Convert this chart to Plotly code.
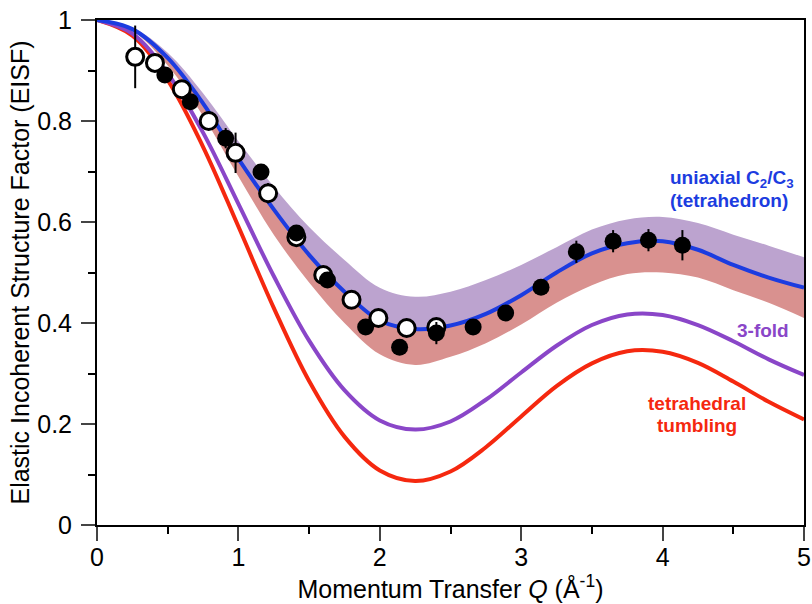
import plotly.graph_objects as go

# Model curves
q_model = [0, 0.25, 0.5, 0.75, 1.0, 1.25, 1.5, 1.75, 2.0, 2.25, 2.5, 2.75,
           3.0, 3.25, 3.5, 3.75, 4.0, 4.25, 4.5, 4.75, 5.0]
eisf_uniaxial = [1.0, 0.982, 0.925, 0.835, 0.725, 0.625, 0.535, 0.462, 0.405, 0.388, 0.395,
                 0.418, 0.455, 0.500, 0.538, 0.558, 0.562, 0.545, 0.515, 0.490, 0.470]
band_upper = [1.0, 0.985, 0.935, 0.855, 0.760, 0.670, 0.590, 0.525, 0.470, 0.452, 0.462,
              0.485, 0.515, 0.550, 0.585, 0.605, 0.610, 0.598, 0.575, 0.553, 0.530]
band_lower = [1.0, 0.978, 0.910, 0.810, 0.690, 0.575, 0.480, 0.400, 0.338, 0.317, 0.333,
              0.360, 0.397, 0.440, 0.475, 0.497, 0.500, 0.490, 0.465, 0.440, 0.410]
eisf_3fold = [1.0, 0.973, 0.894, 0.777, 0.636, 0.493, 0.365, 0.267, 0.207, 0.189, 0.205,
              0.248, 0.302, 0.355, 0.396, 0.417, 0.416, 0.396, 0.364, 0.328, 0.297]
eisf_tumbling = [1.0, 0.969, 0.881, 0.749, 0.591, 0.430, 0.285, 0.175, 0.108, 0.087, 0.106,
                 0.154, 0.215, 0.275, 0.320, 0.344, 0.343, 0.321, 0.284, 0.244, 0.209]

# Measured data
q_open = [0.27, 0.41, 0.60, 0.79, 0.98, 1.21, 1.41, 1.60, 1.80, 1.99, 2.19, 2.40]
eisf_open = [0.927, 0.915, 0.863, 0.800, 0.737, 0.657, 0.570, 0.495, 0.446, 0.410, 0.390, 0.392]
err_open = [0.062, 0.015, 0.010, 0.010, 0.040, 0.020, 0.010, 0.010, 0.010, 0.010, 0.010, 0.010]

q_filled = [0.48, 0.66, 0.91, 1.16, 1.41, 1.63, 1.90, 2.14, 2.40, 2.66, 2.89, 3.14,
            3.39, 3.65, 3.90, 4.14]
eisf_filled = [0.891, 0.838, 0.766, 0.699, 0.578, 0.485, 0.392, 0.352, 0.380, 0.392, 0.420,
               0.471, 0.541, 0.562, 0.564, 0.554]
err_filled = [0.010, 0.010, 0.020, 0.015, 0.010, 0.010, 0.010, 0.010, 0.022, 0.012, 0.012,
              0.015, 0.022, 0.022, 0.022, 0.030]

x_ticks = [0, 1, 2, 3, 4, 5]
y_ticks = [0, 0.2, 0.4, 0.6, 0.8, 1.0]
y_tick_labels = ["0", "0.2", "0.4", "0.6", "0.8", "1"]

BLUE = "#1c3ce0"
PURPLE = "#8a46c8"
RED = "#f5280f"
BAND_UP = "#bca3cf"
BAND_LO = "#d9918f"

fig = go.Figure()

fig.add_trace(go.Scatter(x=q_model, y=band_lower, mode="lines", line=dict(width=0, shape="spline"),
                         hoverinfo="skip", showlegend=False))
fig.add_trace(go.Scatter(x=q_model, y=eisf_uniaxial, mode="lines", line=dict(width=0, shape="spline"),
                         fill="tonexty", fillcolor=BAND_LO, hoverinfo="skip", showlegend=False))
fig.add_trace(go.Scatter(x=q_model, y=band_upper, mode="lines", line=dict(width=0, shape="spline"),
                         fill="tonexty", fillcolor=BAND_UP, hoverinfo="skip", showlegend=False))

fig.add_trace(go.Scatter(x=q_model, y=eisf_tumbling, mode="lines",
                         line=dict(color=RED, width=4, shape="spline"), showlegend=False))
fig.add_trace(go.Scatter(x=q_model, y=eisf_3fold, mode="lines",
                         line=dict(color=PURPLE, width=4, shape="spline"), showlegend=False))
fig.add_trace(go.Scatter(x=q_model, y=eisf_uniaxial, mode="lines",
                         line=dict(color=BLUE, width=4, shape="spline"), showlegend=False))

fig.add_trace(go.Scatter(x=q_open, y=eisf_open, mode="markers",
                         marker=dict(size=17, color="white", line=dict(color="black", width=3)),
                         error_y=dict(type="data", array=err_open, color="black", thickness=2, width=0),
                         showlegend=False))
fig.add_trace(go.Scatter(x=q_filled, y=eisf_filled, mode="markers",
                         marker=dict(size=17, color="black", line=dict(color="black", width=0)),
                         error_y=dict(type="data", array=err_filled, color="black", thickness=2, width=0),
                         showlegend=False))

FONT = "Liberation Sans, Arial, Helvetica, sans-serif"

fig.add_annotation(x=4.04, y=0.686, xref="x", yref="y", text="<b>uniaxial C<sub>2</sub>/C<sub>3</sub></b>",
                   showarrow=False, xanchor="left", yanchor="middle", font=dict(size=19, color=BLUE, family=FONT))
fig.add_annotation(x=4.04, y=0.642, xref="x", yref="y", text="<b>(tetrahedron)</b>",
                   showarrow=False, xanchor="left", yanchor="middle", font=dict(size=19, color=BLUE, family=FONT))
fig.add_annotation(x=4.71, y=0.386, xref="x", yref="y", text="<b>3-fold</b>",
                   showarrow=False, xanchor="center", yanchor="middle", font=dict(size=19, color=PURPLE, family=FONT))
fig.add_annotation(x=4.24, y=0.240, xref="x", yref="y", text="<b>tetrahedral</b>",
                   showarrow=False, xanchor="center", yanchor="middle", font=dict(size=19, color=RED, family=FONT))
fig.add_annotation(x=4.24, y=0.198, xref="x", yref="y", text="<b>tumbling</b>",
                   showarrow=False, xanchor="center", yanchor="middle", font=dict(size=19, color=RED, family=FONT))

fig.update_layout(
    width=812, height=604,
    margin=dict(l=97, r=8, t=20, b=79),
    plot_bgcolor="white", paper_bgcolor="white",
    font=dict(family=FONT, size=25, color="black"),
)
fig.update_xaxes(range=[0, 5], tickvals=x_ticks, ticks="outside", ticklen=14, tickwidth=2, automargin=False,
                 ticklabelstandoff=-5,
                 showline=True, linecolor="black", linewidth=2, mirror=True, showgrid=False, zeroline=False,
                 minor=dict(dtick=0.5, ticks="outside", ticklen=7, tickwidth=2, tickcolor="black", showgrid=False),
                 tickfont=dict(size=25), title=dict(text="Momentum Transfer <i>Q</i> (Å<sup>-1</sup>)",
                                                    font=dict(size=25), standoff=8))
fig.update_yaxes(range=[0, 1], tickvals=y_ticks, ticktext=y_tick_labels, automargin=False,
                 ticklabelstandoff=4,
                 ticks="outside", ticklen=14, tickwidth=2,
                 showline=True, linecolor="black", linewidth=2, mirror=True, showgrid=False, zeroline=False,
                 minor=dict(dtick=0.1, ticks="outside", ticklen=7, tickwidth=2, tickcolor="black", showgrid=False),
                 tickfont=dict(size=25), title=dict(text="Elastic Incoherent Structure Factor (EISF)",
                                                    font=dict(size=25), standoff=0))

fig.write_html("out.html", post_script="document.body.style.margin='0';",
               config={"displayModeBar": False})
